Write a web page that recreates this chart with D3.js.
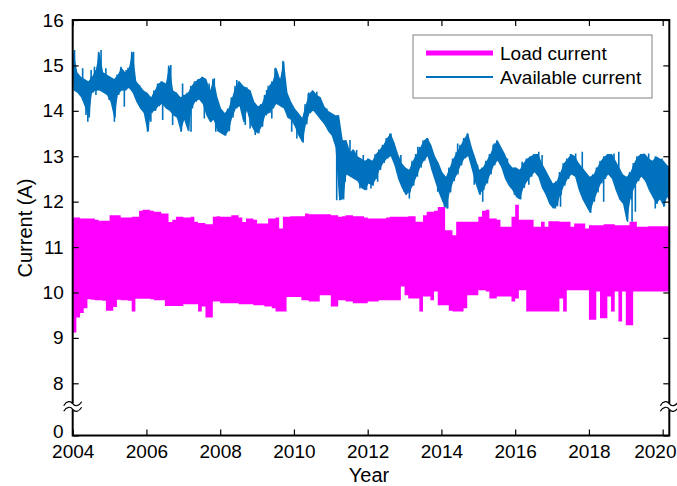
<!DOCTYPE html>
<html>
<head>
<meta charset="utf-8">
<script src="https://cdn.jsdelivr.net/npm/d3@7"></script>
<style>
  body { margin: 0; background: #fff; }
  text { font-family: "Liberation Sans", Arial, Helvetica, sans-serif; }
</style>
</head>
<body>
<svg id="chart" width="677" height="486"></svg>
<script>
// Sampling of both series: one bin every 0.1 year starting at 2004.0
const startYear = 2004;
const stepYears = 0.1;

const xTickValues = [2004, 2006, 2008, 2010, 2012, 2014, 2016, 2018, 2020];
const yTickValues = [0, 8, 9, 10, 11, 12, 13, 14, 15, 16];
const seriesNames = ["Load current", "Available current"];

// Available current: upper and lower excursion within each bin (A)
const availHigh = [
  15.30, 14.85, 14.75, 14.70, 14.65, 14.75, 14.90, 15.30, 14.85, 14.80,
  14.75, 14.70, 14.80, 14.95, 14.85, 14.95, 15.30, 14.65, 14.55, 14.45,
  14.40, 14.30, 14.45, 14.60, 14.65, 14.60, 15.00, 14.45, 14.40, 14.30,
  14.35, 14.40, 14.55, 14.65, 14.70, 14.75, 14.70, 14.45, 14.70, 14.30,
  14.05, 13.95, 14.05, 14.30, 14.55, 14.65, 14.55, 14.50, 14.45, 14.20,
  14.10, 14.15, 14.35, 14.55, 14.65, 14.95, 14.70, 15.10, 14.40, 14.20,
  14.05, 13.95, 13.85, 14.15, 14.40, 14.45, 14.35, 14.30, 14.10, 14.00,
  13.95, 13.90, 13.90, 13.35, 13.35, 13.10, 13.15, 13.00, 12.95, 12.90,
  12.95, 12.90, 13.05, 13.15, 13.25, 13.40, 13.50, 13.30, 13.05, 12.85,
  12.75, 12.70, 12.90, 13.05, 13.20, 13.35, 13.40, 13.25, 13.00, 12.85,
  12.65, 12.55, 12.75, 12.95, 13.10, 13.25, 13.40, 13.50, 13.20, 12.95,
  12.70, 12.75, 12.90, 13.05, 13.25, 13.35, 13.20, 13.05, 12.85, 12.75,
  12.75, 12.70, 12.85, 12.95, 13.00, 13.05, 13.05, 12.85, 12.70, 12.55,
  12.40, 12.45, 12.65, 12.85, 12.95, 13.05, 13.00, 12.85, 12.75, 12.65,
  12.55, 12.60, 12.75, 12.90, 13.00, 13.05, 13.05, 12.90, 12.75, 12.60,
  12.55, 12.65, 12.85, 13.00, 13.05, 13.05, 12.95, 12.90, 13.00, 12.95,
  12.90, 12.80, 12.75
];
const availLow = [
  14.45, 14.40, 14.30, 14.10, 13.85, 14.40, 14.45, 14.45, 14.40, 14.35,
  14.20, 13.85, 14.35, 14.45, 14.45, 14.50, 14.40, 14.20, 14.05, 13.95,
  13.55, 13.95, 14.00, 14.10, 14.15, 14.05, 14.00, 13.90, 13.85, 13.55,
  13.80, 13.55, 14.05, 14.20, 14.25, 14.15, 13.90, 13.75, 13.80, 13.55,
  13.50, 13.45, 13.55, 13.85, 14.05, 14.10, 13.75, 14.00, 13.70, 13.55,
  13.50, 13.65, 13.90, 13.95, 14.05, 14.15, 14.10, 14.05, 13.85, 13.80,
  13.65, 13.45, 13.30, 13.70, 13.95, 14.00, 13.90, 13.80, 13.70, 13.55,
  13.45, 13.20, 12.03, 12.05, 12.60, 12.55, 12.50, 12.45, 12.30, 12.25,
  12.40, 12.35, 12.50, 12.70, 12.85, 12.95, 13.00, 12.80, 12.50, 12.30,
  12.15, 12.20, 12.35, 12.55, 12.75, 12.90, 13.00, 12.70, 12.45, 12.20,
  12.00, 11.85, 12.20, 12.45, 12.60, 12.80, 12.95, 13.00, 12.70, 12.40,
  12.15, 12.25, 12.40, 12.60, 12.80, 12.90, 12.75, 12.50, 12.35, 12.25,
  12.10, 12.05, 12.30, 12.45, 12.55, 12.65, 12.55, 12.30, 12.15, 11.95,
  11.85, 11.90, 12.15, 12.35, 12.50, 12.60, 12.55, 12.25, 12.05, 11.90,
  11.75, 12.00, 12.20, 12.40, 12.50, 12.60, 12.50, 12.25, 12.05, 11.95,
  11.56, 12.05, 12.30, 12.45, 12.55, 12.45, 12.25, 12.10, 11.95, 12.05,
  11.90, 12.10, 11.95
];
// Short-lived excursions of the available current: [year, value (A)]
const availSpikes = [
  [2004.05, 15.34], [2004.27, 14.94], [2004.36, 13.91], [2004.41, 13.76], [2004.50, 14.90],
  [2004.59, 14.97], [2004.63, 14.35], [2004.77, 15.34], [2004.90, 14.94], [2004.99, 14.24],
  [2005.13, 13.76], [2005.31, 14.97], [2005.40, 14.09], [2005.45, 14.90], [2005.65, 15.30],
  [2005.81, 14.57], [2006.03, 13.54], [2006.12, 13.76], [2006.37, 14.60], [2006.44, 13.80],
  [2006.66, 15.01], [2006.71, 13.69], [2006.94, 13.54], [2006.98, 14.60], [2007.12, 13.69],
  [2007.21, 13.54], [2007.34, 14.57], [2007.57, 13.83], [2007.60, 14.60], [2007.70, 14.60],
  [2007.84, 14.72], [2007.88, 13.54], [2008.02, 13.61], [2008.18, 13.58], [2008.45, 14.68],
  [2008.54, 14.60], [2008.68, 13.69], [2008.72, 14.52], [2008.81, 13.61], [2008.95, 13.47],
  [2008.99, 13.54], [2009.26, 14.46], [2009.40, 13.83], [2009.49, 14.94], [2009.61, 14.60],
  [2009.72, 15.08], [2009.94, 13.54], [2010.08, 13.39], [2010.24, 13.32], [2010.39, 14.38],
  [2010.62, 14.42], [2010.89, 14.05], [2010.92, 13.69], [2011.16, 12.03], [2011.27, 12.07],
  [2011.39, 12.44], [2011.52, 13.36], [2011.70, 13.14], [2011.79, 12.29], [2011.88, 13.03],
  [2011.97, 12.26], [2012.09, 12.29], [2012.23, 13.03], [2012.27, 12.44], [2012.63, 13.50],
  [2012.90, 13.03], [2012.99, 12.22], [2013.13, 12.07], [2013.36, 13.21], [2013.63, 13.39],
  [2013.81, 12.99], [2013.90, 12.22], [2014.08, 11.89], [2014.17, 11.85], [2014.44, 13.28],
  [2014.71, 13.50], [2014.89, 12.37], [2014.98, 12.81], [2015.12, 12.00], [2015.43, 13.28],
  [2015.52, 13.32], [2015.79, 12.95], [2015.98, 12.15], [2016.10, 12.07], [2016.19, 12.88],
  [2016.37, 12.37], [2016.64, 13.10], [2016.73, 13.03], [2017.09, 11.85], [2017.23, 11.89],
  [2017.45, 12.95], [2017.64, 13.06], [2017.82, 13.10], [2018.00, 11.89], [2018.09, 12.03],
  [2018.40, 12.00], [2018.68, 13.06], [2018.81, 13.10], [2019.17, 11.56], [2019.26, 11.78],
  [2019.49, 13.06], [2019.62, 13.06], [2019.80, 11.85], [2019.98, 12.95], [2020.03, 11.89]
];

// Load current: daily maximum and minimum envelope within each bin (A)
const loadHigh = [
  11.65, 11.65, 11.63, 11.63, 11.63, 11.63, 11.60, 11.58, 11.58, 11.58,
  11.70, 11.70, 11.70, 11.65, 11.65, 11.65, 11.67, 11.67, 11.80, 11.82,
  11.82, 11.80, 11.78, 11.78, 11.74, 11.74, 11.55, 11.60, 11.67, 11.67,
  11.65, 11.65, 11.67, 11.56, 11.53, 11.53, 11.50, 11.50, 11.67, 11.68,
  11.67, 11.67, 11.67, 11.70, 11.70, 11.65, 11.55, 11.63, 11.63, 11.60,
  11.52, 11.52, 11.52, 11.63, 11.63, 11.65, 11.41, 11.67, 11.67, 11.68,
  11.68, 11.68, 11.68, 11.74, 11.72, 11.72, 11.72, 11.72, 11.72, 11.72,
  11.70, 11.70, 11.67, 11.68, 11.70, 11.70, 11.68, 11.68, 11.68, 11.65,
  11.63, 11.63, 11.63, 11.63, 11.63, 11.65, 11.67, 11.67, 11.67, 11.67,
  11.67, 11.68, 11.68, 11.56, 11.56, 11.70, 11.78, 11.78, 11.80, 11.88,
  11.88, 11.37, 11.37, 11.26, 11.56, 11.56, 11.56, 11.56, 11.56, 11.56,
  11.67, 11.80, 11.82, 11.63, 11.63, 11.60, 11.45, 11.45, 11.45, 11.67,
  11.93, 11.60, 11.60, 11.60, 11.60, 11.45, 11.45, 11.56, 11.45, 11.57,
  11.57, 11.57, 11.56, 11.56, 11.56, 11.45, 11.52, 11.52, 11.52, 11.41,
  11.48, 11.48, 11.48, 11.48, 11.50, 11.50, 11.50, 11.48, 11.48, 11.48,
  11.48, 11.56, 11.56, 11.45, 11.45, 11.45, 11.46, 11.46, 11.46, 11.46,
  11.46, 11.46, 11.46
];
const loadLow = [
   9.12,  9.45,  9.55,  9.65,  9.85,  9.84,  9.83,  9.83,  9.82,  9.60,
   9.60,  9.68,  9.84,  9.83,  9.83,  9.82,  9.58,  9.86,  9.86,  9.86,
   9.86,  9.85,  9.83,  9.83,  9.83,  9.70,  9.70,  9.70,  9.70,  9.70,
   9.74,  9.74,  9.74,  9.74,  9.58,  9.69,  9.45,  9.45,  9.80,  9.80,
   9.76,  9.76,  9.76,  9.76,  9.76,  9.74,  9.74,  9.74,  9.74,  9.72,
   9.72,  9.72,  9.69,  9.69,  9.65,  9.58,  9.58,  9.58,  9.90,  9.90,
   9.90,  9.90,  9.83,  9.83,  9.80,  9.80,  9.80,  9.94,  9.94,  9.94,
   9.69,  9.69,  9.83,  9.83,  9.80,  9.80,  9.76,  9.76,  9.76,  9.76,
   9.80,  9.80,  9.80,  9.83,  9.83,  9.83,  9.83,  9.83,  9.83, 10.13,
   9.94,  9.87,  9.87,  9.87,  9.58,  9.91,  9.91,  9.83, 10.02,  9.72,
   9.72,  9.72,  9.60,  9.58,  9.58,  9.58,  9.65,  9.94,  9.94,  9.94,
  10.05, 10.05, 10.02,  9.87,  9.87,  9.91,  9.91,  9.91,  9.91,  9.80,
   9.87, 10.05, 10.05,  9.58,  9.58,  9.58,  9.58,  9.58,  9.58,  9.58,
   9.58,  9.58,  9.87,  9.58, 10.05, 10.05, 10.05, 10.05, 10.05, 10.05,
   9.40,  9.40, 10.02,  9.43,  9.43,  9.91,  9.58, 10.02,  9.36, 10.02,
   9.28,  9.28, 10.02, 10.02, 10.02, 10.02, 10.02, 10.02, 10.02, 10.02,
  10.02, 10.02, 10.02
];

const colors = { load: "#ff00ff", avail: "#0072bd" };
const fontSize = 19;

// Plot frame
const plot = { left: 72.7, right: 669.3, top: 20, bottom: 435.5 };
const svg = d3.select("#chart");

const x = d3.scaleLinear().domain([2004, 2020.18]).range([plot.left, plot.right]);
// Broken value axis: 0 sits just below 8, the span 8..16 is linear
const y = d3.scaleLinear().domain([0, 8, 16]).range([plot.bottom, 383.3, plot.top]);

svg.append("defs").append("clipPath").attr("id", "plot-clip")
  .append("rect")
  .attr("x", plot.left).attr("y", plot.top)
  .attr("width", plot.right - plot.left).attr("height", plot.bottom - plot.top);

const marks = svg.append("g").attr("clip-path", "url(#plot-clip)");

// Load current band (step envelope)
const loadData = loadHigh.map((h, i) => ({ t: startYear + i * stepYears, hi: h, lo: loadLow[i] }));
loadData.push({ ...loadData[loadData.length - 1], t: startYear + loadHigh.length * stepYears });
marks.append("path")
  .datum(loadData)
  .attr("fill", colors.load)
  .attr("d", d3.area()
    .curve(d3.curveStepAfter)
    .x(d => x(d.t))
    .y0(d => y(d.lo))
    .y1(d => y(d.hi)));

// Available current: core between the bin excursions
const availBins = availHigh.map((h, i) => ({ t: startYear + i * stepYears, hi: h, lo: availLow[i] }));
marks.append("path")
  .datum(availBins)
  .attr("fill", colors.avail)
  .attr("d", d3.area()
    .x(d => x(d.t + stepYears / 4))
    .y0(d => y(d.lo))
    .y1(d => y(d.hi)));

// the trace itself, alternating high and low excursion of each bin
const availData = [];
availBins.forEach(d => {
  availData.push({ t: d.t, v: d.hi });
  availData.push({ t: d.t + stepYears / 2, v: d.lo });
});
marks.append("path")
  .datum(availData)
  .attr("fill", "none")
  .attr("stroke", colors.avail)
  .attr("stroke-width", 1.3)
  .attr("d", d3.line().x(d => x(d.t)).y(d => y(d.v)));

// short excursions, each drawn from the middle of its bin
marks.append("g")
  .selectAll("line")
  .data(availSpikes)
  .join("line")
  .attr("x1", d => x(d[0])).attr("x2", d => x(d[0]))
  .attr("y1", d => {
    const b = availBins[Math.min(availBins.length - 1, Math.floor((d[0] - startYear) / stepYears))];
    return y((b.hi + b.lo) / 2);
  })
  .attr("y2", d => y(d[1]))
  .attr("stroke", colors.avail)
  .attr("stroke-width", 1.6);

// Axes with inward ticks on all four sides
function styleAxis(g) {
  g.select(".domain").remove();
  g.selectAll(".tick line").attr("stroke", "#000").attr("stroke-width", 1.2);
  g.selectAll(".tick text").attr("fill", "#000").attr("font-family", null)
    .style("font-size", fontSize + "px");
}
const xAxisG = svg.append("g")
  .attr("transform", `translate(0,${plot.bottom})`)
  .call(d3.axisBottom(x).tickValues(xTickValues).tickFormat(d3.format("d"))
    .tickSizeInner(-6).tickSizeOuter(0).tickPadding(9))
  .call(styleAxis);
// keep the last year label inside the canvas
xAxisG.selectAll(".tick text")
  .filter(d => d === xTickValues[xTickValues.length - 1])
  .attr("text-anchor", "end").attr("x", 676 - x(xTickValues[xTickValues.length - 1]));

svg.append("g")
  .attr("transform", `translate(0,${plot.top})`)
  .call(d3.axisTop(x).tickValues(xTickValues).tickFormat("")
    .tickSizeInner(-6).tickSizeOuter(0))
  .call(styleAxis);
const yAxisG = svg.append("g")
  .attr("transform", `translate(${plot.left},0)`)
  .call(d3.axisLeft(y).tickValues(yTickValues).tickFormat(d3.format("d"))
    .tickSizeInner(-6).tickSizeOuter(0).tickPadding(9))
  .call(styleAxis);
// lift the 0 label slightly so it clears the year labels
yAxisG.selectAll(".tick text").filter(d => d === 0).attr("y", -4);

svg.append("g")
  .attr("transform", `translate(${plot.right},0)`)
  .call(d3.axisRight(y).tickValues(yTickValues).tickFormat("")
    .tickSizeInner(-6).tickSizeOuter(0))
  .call(styleAxis);

// Frame
svg.append("rect")
  .attr("x", plot.left).attr("y", plot.top)
  .attr("width", plot.right - plot.left).attr("height", plot.bottom - plot.top)
  .attr("fill", "none").attr("stroke", "#000").attr("stroke-width", 2);

// Axis break marks between 0 and 8
const breakY = 406.5;
[plot.left, plot.right].forEach(ax => {
  const g = svg.append("g").attr("transform", `translate(${ax},${breakY})`);
  g.append("rect").attr("x", -2).attr("y", -3).attr("width", 4).attr("height", 6).attr("fill", "#fff");
  [-2.8, 2.8].forEach(dy => {
    g.append("path")
      .attr("d", `M-9,${dy + 2} C-6,${dy - 3} -2,${dy - 3} 0,${dy} S6,${dy + 3} 9,${dy - 2}`)
      .attr("fill", "none").attr("stroke", "#000").attr("stroke-width", 1.2);
  });
});

// Axis titles
svg.append("text")
  .attr("x", 369).attr("y", 482)
  .attr("text-anchor", "middle").style("font-size", "20px")
  .text("Year");
svg.append("text")
  .attr("transform", `translate(32,228) rotate(-90)`)
  .attr("text-anchor", "middle").style("font-size", "20px")
  .text("Current (A)");

// Legend
const legend = svg.append("g").attr("transform", "translate(413,35)");
legend.append("rect")
  .attr("width", 239).attr("height", 63)
  .attr("fill", "#fff").attr("stroke", "#808080").attr("stroke-width", 1);
const legendRows = [
  { name: seriesNames[0], color: colors.load, width: 5 },
  { name: seriesNames[1], color: colors.avail, width: 2 }
];
legendRows.forEach((r, i) => {
  const cy = 18 + i * 24;
  legend.append("line")
    .attr("x1", 13).attr("x2", 80).attr("y1", cy).attr("y2", cy)
    .attr("stroke", r.color).attr("stroke-width", r.width);
  legend.append("text")
    .attr("x", 87).attr("y", cy).attr("dy", "0.36em")
    .style("font-size", fontSize + "px")
    .text(r.name);
});
</script>
</body>
</html>
